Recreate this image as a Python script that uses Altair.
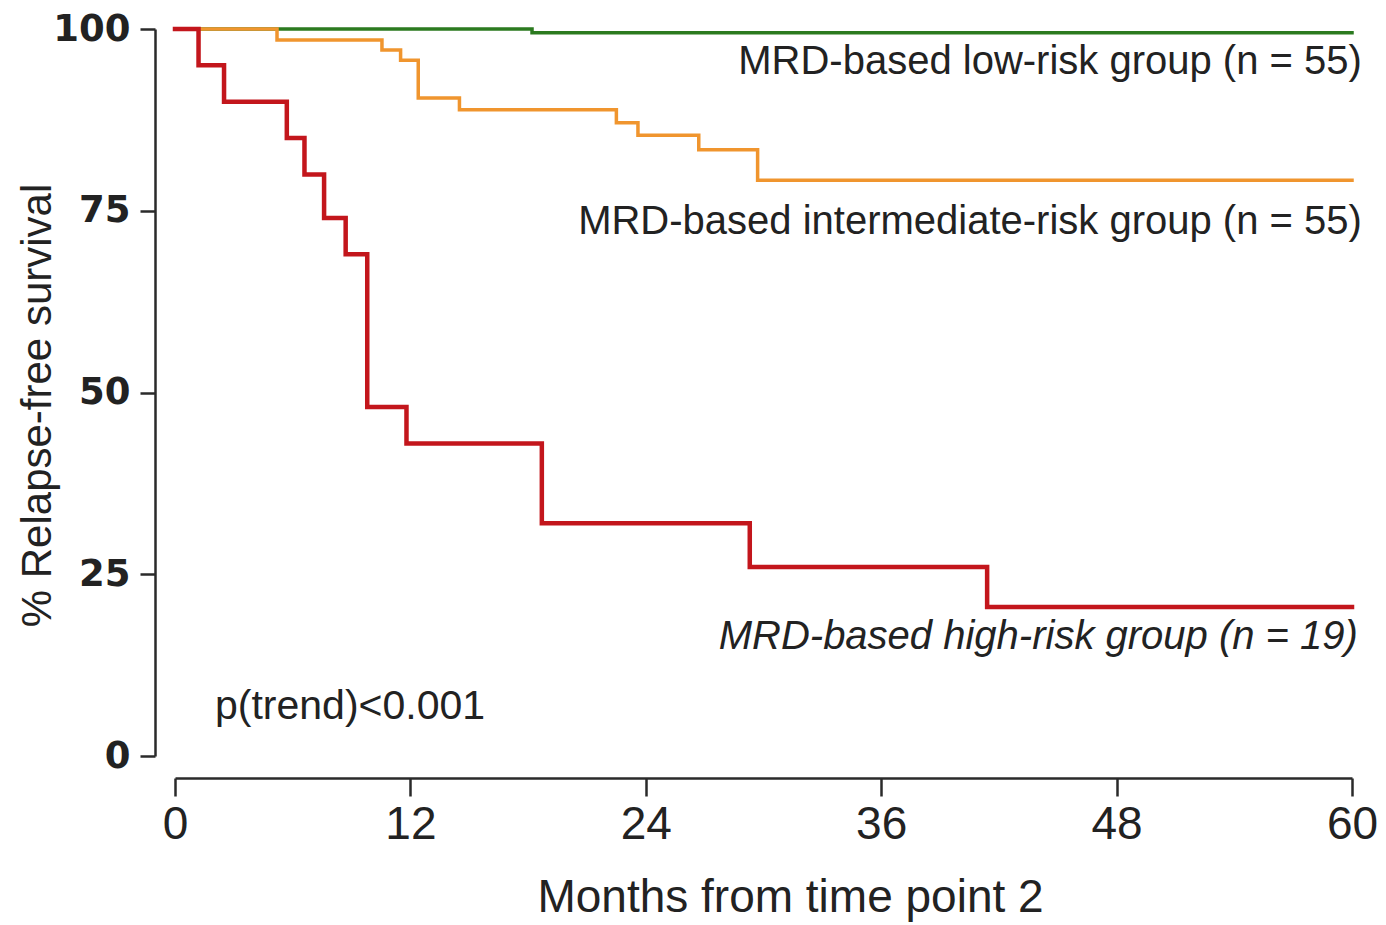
import altair as alt
import pandas as pd

# ---- data ----
high_t = [0, 1.2, 2.5, 5.7, 6.6, 7.6, 8.7, 9.8, 11.8, 18.7, 29.3, 41.4, 60]
high_s = [100, 95, 90, 85, 80, 74, 69, 48, 43, 32, 26, 20.5, 20.5]

inter_t = [0, 5.2, 10.55, 11.5, 12.4, 14.5, 22.5, 23.6, 26.7, 29.7, 60]
inter_s = [100, 98.5, 97.1, 95.7, 90.5, 88.9, 87.1, 85.4, 83.4, 79.2, 79.2]

low_t = [0, 18.2, 60]
low_s = [100, 99.5, 99.5]

labels = [
    "MRD-based low-risk group (n = 55)",
    "MRD-based intermediate-risk group (n = 55)",
    "MRD-based high-risk group (n = 19)",
]
label_x = [60.5, 60.5, 60.3]
label_y = [95.5, 73.5, 16.4]
label_style = ["normal", "normal", "italic"]

p_text = ["p(trend)<0.001"]
p_x = [2.04]
p_y = [6.7]

x_ticks = [0, 12, 24, 36, 48, 60]
y_ticks = [0, 25, 50, 75, 100]

colors = {"high": "#c3161c", "inter": "#f0952e", "low": "#2b7a1f"}

df_high = pd.DataFrame({"t": high_t, "s": high_s})
df_inter = pd.DataFrame({"t": inter_t, "s": inter_s})
df_low = pd.DataFrame({"t": low_t, "s": low_s})

xs = alt.Scale(domain=[0, 60], nice=False, zero=False)
ys = alt.Scale(domain=[0, 100], nice=False)

x_axis = alt.Axis(
    values=x_ticks, title="Months from time point 2", offset=22, tickSize=18,
    labelFont="Liberation Sans", labelFontSize=46, labelPadding=6,
    labelColor="#222", titleFont="Liberation Sans", titleFontSize=46,
    titleFontWeight="normal", titleColor="#222", titlePadding=28,
    titleX=615, titleAlign="center", labelFlush=False,
)
y_axis = alt.Axis(
    values=y_ticks, title="% Relapse-free survival", offset=20, tickSize=15,
    labelFont="DejaVu Sans", labelFontSize=37, labelFontWeight="bold",
    labelPadding=10, labelColor="#222", titleFont="Liberation Sans",
    titleFontSize=42, titleFontWeight="normal", titleColor="#222",
    titleX=-118, titleY=376, titleAlign="center", titleBaseline="middle",
    titleAngle=270,
)


def X(field):
    return alt.X(field, type="quantitative", scale=xs, axis=x_axis)


def Y(field):
    return alt.Y(field, type="quantitative", scale=ys, axis=y_axis)


def km(df, color, width):
    return alt.Chart(df).mark_line(
        interpolate="step-after", color=color, strokeWidth=width, strokeCap="square"
    ).encode(x=X("t"), y=Y("s"))


low_line = km(df_low, colors["low"], 3.5)
inter_line = km(df_inter, colors["inter"], 3.5)
high_line = km(df_high, colors["high"], 4.5)

df_lab = pd.DataFrame({"label": labels, "x": label_x, "y": label_y, "style": label_style})
lab_normal = alt.Chart(df_lab[df_lab["style"] == "normal"]).mark_text(
    align="right", baseline="middle", font="Liberation Sans", fontSize=40, color="#222"
).encode(x=X("x"), y=Y("y"), text="label:N")
lab_italic = alt.Chart(df_lab[df_lab["style"] == "italic"]).mark_text(
    align="right", baseline="middle", font="Liberation Sans", fontSize=40,
    fontStyle="italic", color="#222"
).encode(x=X("x"), y=Y("y"), text="label:N")

df_p = pd.DataFrame({"label": p_text, "x": p_x, "y": p_y})
p_mark = alt.Chart(df_p).mark_text(
    align="left", baseline="middle", font="Liberation Sans", fontSize=41, color="#222"
).encode(x=X("x"), y=Y("y"), text="label:N")

chart = alt.layer(
    low_line, inter_line, high_line, lab_normal, lab_italic, p_mark
).properties(
    width=1177, height=727,
    autosize=alt.AutoSizeParams(type="none"),
    padding={"left": 167, "top": 21, "right": 26, "bottom": 168},
    background="white",
).configure_view(stroke=None).configure_axis(
    grid=False, domainColor="#2a2a2a", domainWidth=2.5, tickColor="#2a2a2a",
    tickWidth=2.5,
)

chart.save("out.html", embed_options={"renderer": "svg", "actions": False})
